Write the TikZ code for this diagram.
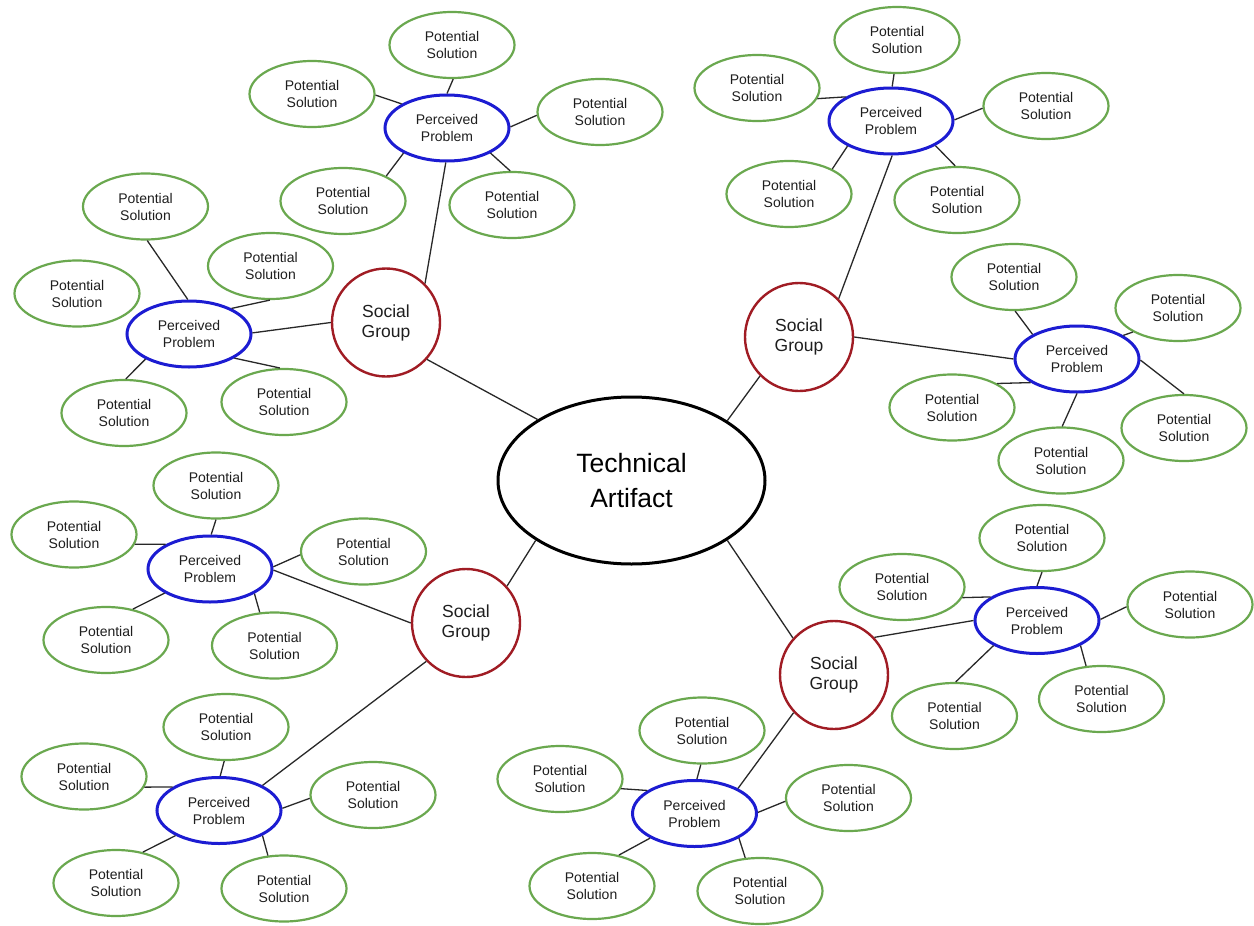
\documentclass[tikz,border=0pt]{standalone}
\usepackage{fontspec}
\setmainfont{Liberation Sans}
\usetikzlibrary{shapes.geometric}
\definecolor{psgreen}{RGB}{106,168,79}
\definecolor{ppblue}{RGB}{28,28,210}
\definecolor{sgred}{RGB}{160,28,36}
\definecolor{linkc}{RGB}{40,40,40}
\definecolor{txt}{RGB}{30,30,30}
\tikzset{
  ps/.style={ellipse, draw=psgreen, line width=2.2pt, minimum width=125pt, minimum height=66pt, inner sep=0pt, align=center, text=txt, font=\fontsize{14}{17}\selectfont},
  pp/.style={ellipse, draw=ppblue, line width=3pt, minimum width=124pt, minimum height=66pt, inner sep=0pt, align=center, text=txt, font=\fontsize{14}{17}\selectfont},
  sg/.style={circle, draw=sgred, line width=2.4pt, minimum size=108pt, inner sep=0pt, align=center, text=txt, font=\fontsize{17.5}{20}\selectfont},
  ta/.style={ellipse, draw=black, line width=3pt, minimum width=267pt, minimum height=167pt, inner sep=0pt, align=center, text=black, font=\fontsize{26.5}{35}\selectfont},
  link/.style={draw=linkc, line width=1.3pt}
}
\begin{document}
\begin{tikzpicture}[x=1pt,y=-1pt]
\fill[white] (0,0) rectangle (1254,926);
\useasboundingbox (0,0) rectangle (1254,926);
% center
\node[ta] (ta) at (631.5,480.5) {Technical\\Artifact};
% social groups
\node[sg] (sg1) at (386,322.5) {Social\\Group};
\node[sg] (sg2) at (799,337) {Social\\Group};
\node[sg] (sg3) at (466,623) {Social\\Group};
\node[sg] (sg4) at (834,675) {Social\\Group};
% perceived problems
\node[pp] (pp1) at (447,128) {Perceived\\Problem};
\node[pp] (pp2) at (189,334) {Perceived\\Problem};
\node[pp] (pp3) at (891,121) {Perceived\\Problem};
\node[pp] (pp4) at (1077,359) {Perceived\\Problem};
\node[pp] (pp5) at (210,569) {Perceived\\Problem};
\node[pp] (pp6) at (219,810.5) {Perceived\\Problem};
\node[pp] (pp7) at (1037,620.5) {Perceived\\Problem};
\node[pp] (pp8) at (694.5,813.5) {Perceived\\Problem};
% potential solutions
\node[ps] (s1a) at (452,45) {Potential\\Solution};
\node[ps] (s1b) at (312,94) {Potential\\Solution};
\node[ps] (s1c) at (600,112) {Potential\\Solution};
\node[ps] (s1d) at (343,201) {Potential\\Solution};
\node[ps] (s1e) at (512,205) {Potential\\Solution};
\node[ps] (s2a) at (145.5,206.5) {Potential\\Solution};
\node[ps] (s2b) at (77,293.5) {Potential\\Solution};
\node[ps] (s2c) at (270.5,266) {Potential\\Solution};
\node[ps] (s2d) at (124,413) {Potential\\Solution};
\node[ps] (s2e) at (284,402) {Potential\\Solution};
\node[ps] (s3a) at (897,40) {Potential\\Solution};
\node[ps] (s3b) at (757,88) {Potential\\Solution};
\node[ps] (s3c) at (1046,106) {Potential\\Solution};
\node[ps] (s3d) at (789,194) {Potential\\Solution};
\node[ps] (s3e) at (957,200) {Potential\\Solution};
\node[ps] (s4a) at (1014,277) {Potential\\Solution};
\node[ps] (s4b) at (1178,308) {Potential\\Solution};
\node[ps] (s4c) at (952,407.5) {Potential\\Solution};
\node[ps] (s4d) at (1061,460.5) {Potential\\Solution};
\node[ps] (s4e) at (1184,428) {Potential\\Solution};
\node[ps] (s5a) at (216,485.5) {Potential\\Solution};
\node[ps] (s5b) at (74,534.5) {Potential\\Solution};
\node[ps] (s5c) at (363.5,551.5) {Potential\\Solution};
\node[ps] (s5d) at (106,640) {Potential\\Solution};
\node[ps] (s5e) at (274.5,645.5) {Potential\\Solution};
\node[ps] (s6a) at (226,727) {Potential\\Solution};
\node[ps] (s6b) at (84,776.5) {Potential\\Solution};
\node[ps] (s6c) at (373,795) {Potential\\Solution};
\node[ps] (s6d) at (116,883) {Potential\\Solution};
\node[ps] (s6e) at (284,888.5) {Potential\\Solution};
\node[ps] (s7a) at (1042,538) {Potential\\Solution};
\node[ps] (s7b) at (902,587) {Potential\\Solution};
\node[ps] (s7c) at (1190,604.5) {Potential\\Solution};
\node[ps] (s7d) at (954.5,716) {Potential\\Solution};
\node[ps] (s7e) at (1101.5,699) {Potential\\Solution};
\node[ps] (s8a) at (702,730.5) {Potential\\Solution};
\node[ps] (s8b) at (560,779) {Potential\\Solution};
\node[ps] (s8c) at (848.5,798) {Potential\\Solution};
\node[ps] (s8d) at (592,886) {Potential\\Solution};
\node[ps] (s8e) at (760,891) {Potential\\Solution};
% connectors
\draw[link] (s1a.-88)--(pp1.90);
\draw[link] (s1b.-1)--(pp1.152);
\draw[link] (pp1.1)--(s1c.183);
\draw[link] (pp1.210)--(s1d.30);
\draw[link] (pp1.-30)--(s1e.93);
\draw[link] (pp1.268)--(sg1.45);
\draw[link] (s2a.-87)--(pp2.92);
\draw[link] (pp2.31)--(s2c.269);
\draw[link] (pp2.210)--(s2d.87);
\draw[link] (pp2.-28)--(s2e.97);
\draw[link] (pp2.1)--(sg1.180);
\draw[link] (sg1.-42)--(ta.147.5);
\draw[link] (s3a.-95)--(pp3.88);
\draw[link] (s3b.-10)--(pp3.152);
\draw[link] (pp3.1)--(s3c.182);
\draw[link] (pp3.210)--(s3d.30);
\draw[link] (pp3.-29)--(s3e.93);
\draw[link] (pp3.-88)--(sg2.44);
\draw[link] (sg2.0)--(pp4.180);
\draw[link] (sg2.225)--(ta.32.5);
\draw[link] (s4a.-88)--(pp4.151);
\draw[link] (pp4.27)--(s4b.208);
\draw[link] (s4c.28)--(pp4.207);
\draw[link] (pp4.270)--(s4d.88);
\draw[link] (pp4.-1)--(s4e.90);
\draw[link] (s5a.-90)--(pp5.88);
\draw[link] (s5b.-9)--(pp5.151);
\draw[link] (pp5.2)--(s5c.183);
\draw[link] (pp5.208)--(s5d.49);
\draw[link] (pp5.-29)--(s5e.114);
\draw[link] (pp5.-1)--(sg3.180);
\draw[link] (s6a.-93)--(pp6.88);
\draw[link] (s6b.-10)--(pp6.153);
\draw[link] (pp6.2)--(s6c.183);
\draw[link] (pp6.210)--(s6d.49);
\draw[link] (pp6.-30)--(s6e.116);
\draw[link] (pp6.30)--(sg3.224);
\draw[link] (sg3.42)--(ta.212.5);
\draw[link] (s7a.-90)--(pp7.90);
\draw[link] (s7b.-10)--(pp7.153);
\draw[link] (pp7.1)--(s7c.182);
\draw[link] (pp7.210)--(s7d.88);
\draw[link] (pp7.-30)--(s7e.115);
\draw[link] (pp7.180)--(sg4.43);
\draw[link] (sg4.138)--(ta.-32.5);
\draw[link] (s8a.-92)--(pp8.86);
\draw[link] (s8b.-9)--(pp8.154);
\draw[link] (pp8.1)--(s8c.183);
\draw[link] (pp8.209)--(s8d.49);
\draw[link] (pp8.-29)--(s8e.114);
\draw[link] (pp8.30)--(sg4.223);
\end{tikzpicture}
\end{document}
